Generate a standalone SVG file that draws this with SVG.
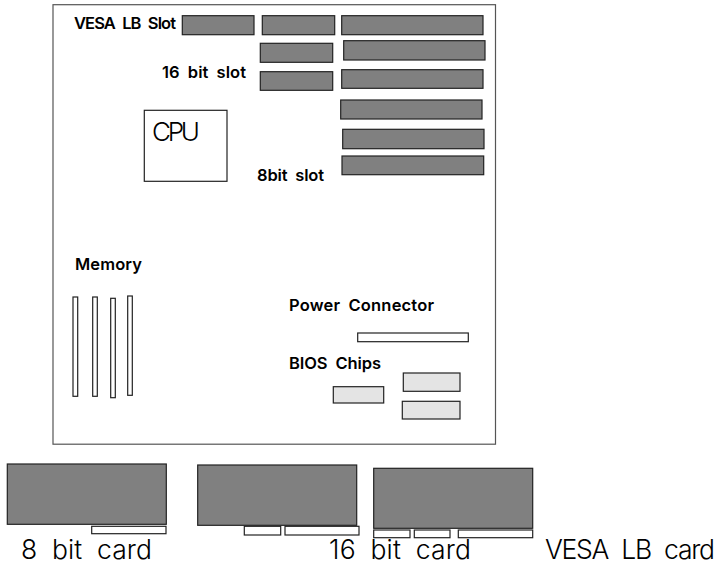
<svg xmlns="http://www.w3.org/2000/svg" width="716" height="565" viewBox="0 0 716 565">
<style>
rect{stroke:#222;stroke-width:1.2}
.board{fill:#fff;stroke:#555}
.slot{fill:#808080}
.white{fill:#fff}
.chip{fill:#e4e4e4}
text{font-family:"Inter","Open Sans","Liberation Sans",sans-serif;fill:#000}
.lab{font-size:16.5px;font-weight:600;word-spacing:4px}
.big{font-size:26.5px;font-weight:300;word-spacing:7px}
</style>
<g id="board"><rect class="board" x="53" y="4.7" width="442.5" height="439.5"/></g>
<g id="vesa-slot"><rect class="slot" x="182.3" y="15.7" width="71.7" height="19"/><text class="lab" x="74" y="29" textLength="102">VESA LB Slot</text></g>
<g id="slot-16-a"><rect class="slot" x="262.3" y="15.7" width="72.4" height="19"/></g>
<g id="slot-16-b"><rect class="slot" x="260.3" y="43.3" width="72.4" height="19"/></g>
<g id="slot-16-c"><rect class="slot" x="260.3" y="71.7" width="72.4" height="18.6"/></g>
<g id="slot-16-label"><text class="lab" x="162" y="78" textLength="84">16 bit slot</text></g>
<g id="slot-8-a"><rect class="slot" x="341.7" y="15.7" width="141.3" height="19"/></g>
<g id="slot-8-b"><rect class="slot" x="343.7" y="40.7" width="141.3" height="19.3"/></g>
<g id="slot-8-c"><rect class="slot" x="341.7" y="69.7" width="141.3" height="18.6"/></g>
<g id="slot-8-d"><rect class="slot" x="340.7" y="100" width="141.3" height="19"/></g>
<g id="slot-8-e"><rect class="slot" x="342.7" y="129.3" width="141.3" height="19.4"/></g>
<g id="slot-8-f"><rect class="slot" x="342" y="156" width="141.7" height="18.7"/></g>
<g id="slot-8-label"><text class="lab" x="257" y="181" textLength="67">8bit slot</text></g>
<g id="cpu"><rect class="white" x="144.3" y="110.3" width="82.7" height="71"/><text x="152" y="141" font-size="26" font-weight="300" textLength="48">CPU</text></g>
<g id="memory"><text class="lab" x="75" y="270" textLength="67">Memory</text>
<rect class="white" x="73" y="297" width="4.7" height="99.3"/>
<rect class="white" x="92.7" y="297" width="4.6" height="99.3"/>
<rect class="white" x="110.7" y="298.3" width="4.6" height="99.4"/>
<rect class="white" x="127.7" y="296" width="4.6" height="99.3"/></g>
<g id="power"><text class="lab" x="289" y="311" textLength="145">Power Connector</text><rect class="white" x="357.7" y="333" width="110.6" height="8.7"/></g>
<g id="bios"><text class="lab" x="289" y="369" textLength="92">BIOS Chips</text>
<rect class="chip" x="333.3" y="386.7" width="50.4" height="16.3"/>
<rect class="chip" x="403.3" y="373" width="56.7" height="18.3"/>
<rect class="chip" x="402.3" y="401.3" width="57.7" height="17.7"/></g>
<g id="card-8"><rect class="slot" x="7.3" y="464" width="159" height="60.3"/><rect class="white" x="91.7" y="526.3" width="74.3" height="7.4"/><text class="big" x="21" y="558.5" textLength="131">8 bit card</text></g>
<g id="card-16"><rect class="slot" x="197.7" y="465" width="159" height="60.3"/><rect class="white" x="244.3" y="526.3" width="36.4" height="8.7"/><rect class="white" x="285" y="526.3" width="74" height="8.7"/><text class="big" x="329" y="558.5" textLength="142">16 bit card</text></g>
<g id="card-vesa"><rect class="slot" x="373.7" y="468.3" width="159" height="60"/><rect class="white" x="373.7" y="530" width="36.3" height="7.7"/><rect class="white" x="414.3" y="530" width="35.7" height="7.7"/><rect class="white" x="458.3" y="530" width="74.4" height="7.7"/><text class="big" x="545" y="558.5" textLength="170">VESA LB card</text></g>
<g id="connectors"/>
</svg>
